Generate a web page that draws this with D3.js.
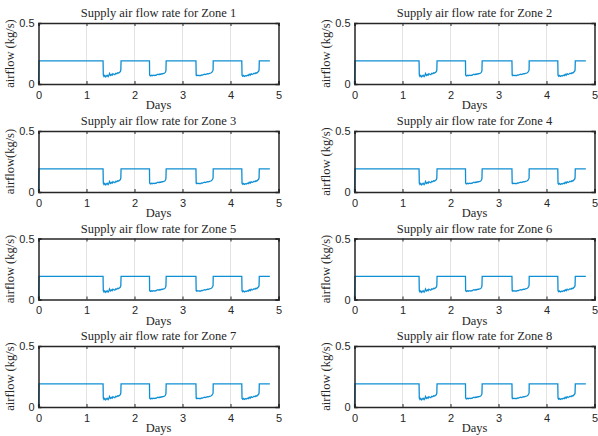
<!DOCTYPE html>
<html><head><meta charset="utf-8">
<script src="https://cdn.jsdelivr.net/npm/d3@7"></script>
<style>body{margin:0;background:#fff}svg{display:block}</style>
</head><body>
<script>
const zones = ["Zone 1","Zone 2","Zone 3","Zone 4","Zone 5","Zone 6","Zone 7","Zone 8"];
const yLabels = ["airflow (kg/s)","airflow (kg/s)","airflow(kg/s)","airflow (kg/s)","airflow (kg/s)","airflow (kg/s)","airflow (kg/s)","airflow (kg/s)"];
const xTicks = [0,1,2,3,4,5];
const yTicks = [0,0.5];
const days = [
 0, 0.01, 1.345,
 1.35,1.365,1.38,1.40,1.415,1.43,1.45,1.465,1.48,1.50,1.52,1.535,1.55,1.57,1.59,1.61,1.63,1.65,1.67,1.69,1.705,1.715,
 1.72, 2.312,
 2.315,2.33,2.35,2.37,2.39,2.41,2.43,2.45,2.47,2.49,2.51,2.53,2.55,2.57,2.59,2.61,2.63,2.645,2.655,
 2.66, 3.28,
 3.285,3.30,3.32,3.34,3.36,3.38,3.40,3.42,3.44,3.46,3.48,3.50,3.52,3.54,3.56,3.58,3.60,3.615,3.63,3.637,
 3.64, 4.235,
 4.24,4.255,4.27,4.29,4.31,4.33,4.35,4.37,4.39,4.41,4.43,4.45,4.47,4.49,4.51,4.53,4.55,4.57,4.585,4.595,
 4.6, 4.82
];
const airflow = [
 0, 0.19, 0.19,
 0.074,0.062,0.070,0.058,0.066,0.072,0.060,0.068,0.086,0.070,0.078,0.072,0.084,0.080,0.076,0.088,0.084,0.092,0.090,0.096,0.102,0.114,
 0.19, 0.19,
 0.074,0.066,0.071,0.068,0.072,0.069,0.073,0.071,0.077,0.080,0.076,0.082,0.080,0.085,0.084,0.088,0.090,0.098,0.110,
 0.19, 0.19,
 0.073,0.068,0.072,0.069,0.071,0.070,0.075,0.073,0.078,0.080,0.077,0.082,0.084,0.083,0.087,0.089,0.092,0.097,0.108,0.114,
 0.19, 0.19,
 0.072,0.064,0.070,0.062,0.068,0.066,0.072,0.068,0.080,0.072,0.084,0.078,0.082,0.088,0.084,0.092,0.090,0.098,0.104,0.114,
 0.19, 0.19
];

const W=598,H=436;
const svg=d3.select("body").append("svg").attr("width",W).attr("height",H);
const colLeft=[38.5,354.5], rowTop=[23,131,238.5,346], pw=240, ph=61;
const serif="'Liberation Serif','DejaVu Serif',serif", sans="'Liberation Sans',Arial,sans-serif";
const pts=days.map((d,i)=>[d,airflow[i]]);

zones.forEach((z,i)=>{
  const x0=colLeft[i%2], y0=rowTop[Math.floor(i/2)];
  const g=svg.append("g").attr("transform",`translate(${x0},${y0})`);
  const x=d3.scaleLinear().domain([0,5]).range([0,pw]);
  const y=d3.scaleLinear().domain([0,0.5]).range([ph,0]);
  g.append("g").selectAll("line").data(xTicks.slice(1,-1)).join("line")
    .attr("x1",d=>x(d)).attr("x2",d=>x(d)).attr("y1",0).attr("y2",ph)
    .attr("stroke","#e3e3e3").attr("stroke-width",1);
  g.append("path").datum(pts)
    .attr("d",d3.line().x(d=>x(d[0])).y(d=>y(d[1])))
    .attr("fill","none").attr("stroke","#0f8fd4").attr("stroke-width",1.3);
  const xa=g.append("g").attr("transform",`translate(0,${ph})`)
    .call(d3.axisBottom(x).tickValues(xTicks).tickSize(-3).tickPadding(7).tickFormat(d3.format("d")));
  const xt=g.append("g").call(d3.axisTop(x).tickValues(xTicks).tickSize(-3).tickFormat(""));
  const ya=g.append("g").call(d3.axisLeft(y).tickValues(yTicks).tickSize(-3).tickPadding(4).tickFormat(d=>d===0?"0":"0.5"));
  const yr=g.append("g").attr("transform",`translate(${pw},0)`).call(d3.axisRight(y).tickValues(yTicks).tickSize(-3).tickFormat(""));
  [xa,xt,ya,yr].forEach(a=>{
    a.selectAll(".domain").attr("stroke","#262626").attr("stroke-width",1.5);
    a.selectAll(".tick line").attr("stroke","#262626");
    a.selectAll("text").attr("font-family",sans).attr("font-size",11).attr("fill","#262626");
  });
  g.append("text").attr("x",pw/2).attr("y",-6).attr("text-anchor","middle")
    .attr("font-family",serif).attr("font-size",12.5).attr("fill","#262626")
    .text("Supply air flow rate for "+z);
  g.append("text").attr("x",pw/2).attr("y",ph+25).attr("text-anchor","middle")
    .attr("font-family",serif).attr("font-size",12.5).attr("fill","#262626").text("Days");
  g.append("text").attr("transform",`translate(-25,${ph/2}) rotate(-90)`).attr("text-anchor","middle")
    .attr("font-family",serif).attr("font-size",12.5).attr("fill","#262626").text(yLabels[i]);
});
</script>
</body></html>
